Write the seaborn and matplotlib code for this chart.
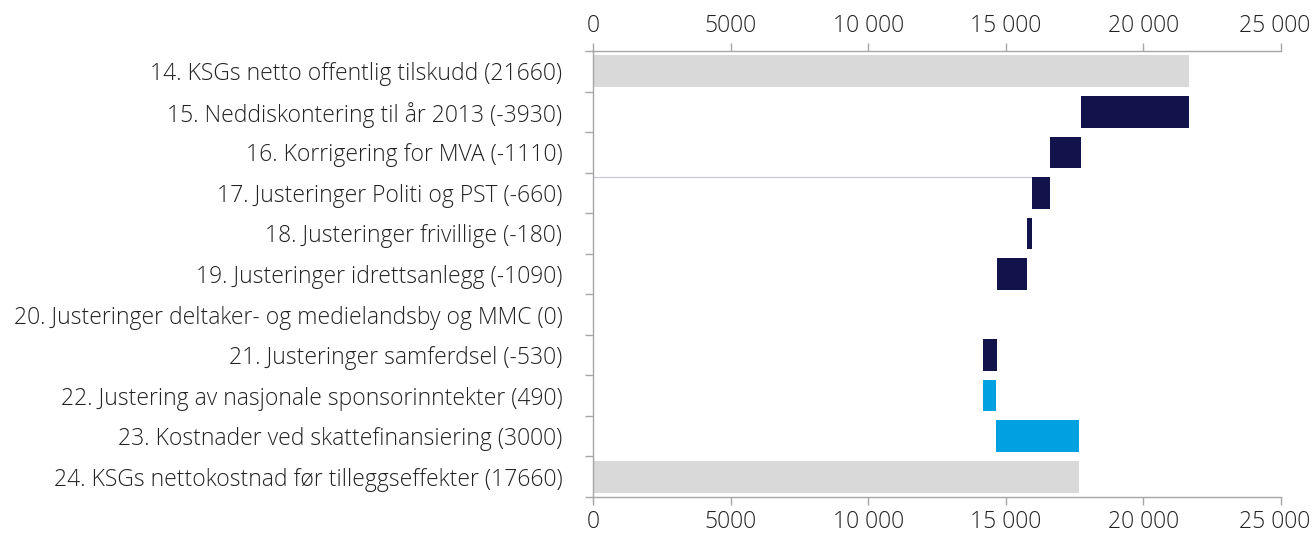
import matplotlib
matplotlib.use("Agg")
import matplotlib.pyplot as plt
import matplotlib.ticker as mticker
import matplotlib.transforms as mtransforms
import numpy as np
import seaborn as sns

# Chart data
labels = [
    "14. KSGs netto offentlig tilskudd (21660)",
    "15. Neddiskontering til år 2013 (-3930)",
    "16. Korrigering for MVA (-1110)",
    "17. Justeringer Politi og PST (-660)",
    "18. Justeringer frivillige (-180)",
    "19. Justeringer idrettsanlegg (-1090)",
    "20. Justeringer deltaker- og medielandsby og MMC (0)",
    "21. Justeringer samferdsel (-530)",
    "22. Justering av nasjonale sponsorinntekter (490)",
    "23. Kostnader ved skattefinansiering (3000)",
    "24. KSGs nettokostnad før tilleggseffekter (17660)",
]
changes = [21660, -3930, -1110, -660, -180, -1090, 0, -530, 490, 3000]
total = 17660
x_ticks = [0, 5000, 10000, 15000, 20000, 25000]

# waterfall start/end
ends = list(np.cumsum(changes))
starts = [0] + ends[:-1]
lefts = [min(s, e) for s, e in zip(starts, ends)] + [0]
widths = [abs(c) for c in changes] + [total]

GRAY = "#d9d9d9"
NAVY = "#13134b"
BLUE = "#00a1e1"
colors = [GRAY] + [NAVY if c < 0 else BLUE for c in changes[1:]] + [GRAY]
BAR_H = 0.78

sns.set_style("white")
plt.rcParams["font.family"] = ["Open Sans", "DejaVu Sans"]
plt.rcParams["font.weight"] = 300

fig = plt.figure(figsize=(13.13, 5.39), dpi=100)
ax = fig.add_axes([593 / 1313, 1 - 497 / 539, (1281 - 593) / 1313, (497 - 51) / 539])

y = np.arange(len(labels))
ax.barh(y, widths, left=lefts, color=colors, height=BAR_H, linewidth=0)

# thin connector line seen in the original
ax.hlines(3 - BAR_H / 2, 0, lefts[3], color="#c9c8d4", linewidth=0.9, zorder=0)

ax.set_xlim(0, 25000)
ax.set_ylim(len(labels) - 0.5, -0.5)

def fmt(v, pos):
    v = int(round(v))
    if v >= 10000:
        return f"{v:,}".replace(",", " ")
    return str(v)

ax.xaxis.set_major_locator(mticker.FixedLocator(x_ticks))
ax.xaxis.set_major_formatter(mticker.FuncFormatter(fmt))
ax.tick_params(axis="x", which="major", top=True, bottom=True, labeltop=True,
               labelbottom=True, direction="out", length=6, width=1,
               color="#a6a6a6", labelsize=16.5, labelcolor="#222222", pad=3)

ax.set_yticks(y)
ax.set_yticklabels(labels)
ax.yaxis.set_minor_locator(mticker.FixedLocator(np.arange(-0.5, len(labels), 1)))
ax.tick_params(axis="y", which="major", length=0, labelsize=16.5,
               labelcolor="#222222", pad=22)
ax.tick_params(axis="y", which="minor", left=True, length=6, width=1,
               color="#a6a6a6", direction="out")

for side in ["top", "bottom", "left"]:
    ax.spines[side].set_visible(True)
    ax.spines[side].set_color("#a6a6a6")
    ax.spines[side].set_linewidth(1)
ax.spines["right"].set_visible(False)

# keep the last x label inside the figure, like the original
fig.canvas.draw()
shift = mtransforms.ScaledTranslation(-6 / 100, 0, fig.dpi_scale_trans)
for tick in [ax.xaxis.get_major_ticks()[-1]]:
    for lab in (tick.label1, tick.label2):
        lab.set_transform(lab.get_transform() + shift)

fig.savefig("out.png", dpi=100)
